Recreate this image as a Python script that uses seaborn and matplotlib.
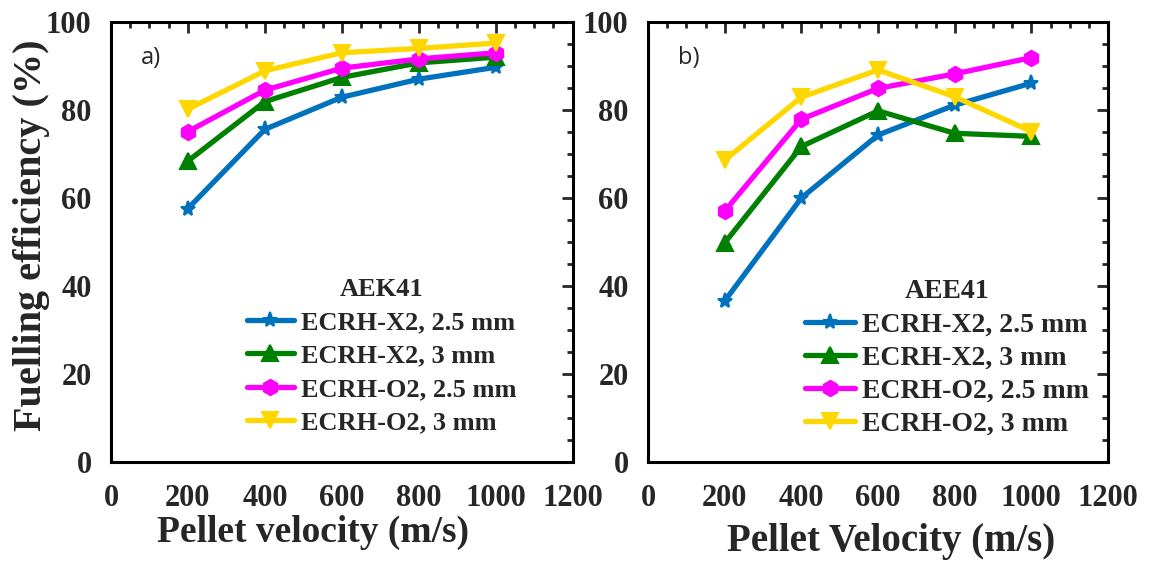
import matplotlib
matplotlib.use("Agg")
import matplotlib.pyplot as plt
import seaborn as sns
import numpy as np
from matplotlib.ticker import MultipleLocator

sns.set_style("white")
plt.rcParams['font.family'] = ['Liberation Serif', 'DejaVu Serif']

velocity = [200, 400, 600, 800, 1000]
series_labels = ["ECRH-X2, 2.5 mm", "ECRH-X2, 3 mm", "ECRH-O2, 2.5 mm", "ECRH-O2, 3 mm"]

# Panel a) AEK41
aek_x2_25 = [57.6, 75.6, 82.9, 87.0, 89.7]
aek_x2_3 = [68.4, 81.9, 87.4, 90.7, 92.0]
aek_o2_25 = [75.1, 84.5, 89.5, 91.6, 93.0]
aek_o2_3 = [80.2, 88.9, 93.0, 94.0, 95.2]

# Panel b) AEE41
aee_x2_25 = [36.6, 60.0, 74.3, 81.1, 86.1]
aee_x2_3 = [49.8, 71.7, 79.8, 74.7, 74.0]
aee_o2_25 = [57.0, 77.9, 84.9, 88.2, 91.9]
aee_o2_3 = [68.6, 82.9, 89.1, 83.0, 75.1]

colors = ["#0072BD", "#008000", "#FF00FF", "#FFD700"]
markers = ["*", "^", "h", "v"]

fig = plt.figure(figsize=(11.5, 5.63), dpi=100)
axA = fig.add_axes([0.0965, 0.1794, 0.4015, 0.7816])
axB = fig.add_axes([0.5635, 0.1794, 0.4000, 0.7816])

panels = [
    (axA, [aek_x2_25, aek_x2_3, aek_o2_25, aek_o2_3], "AEK41", "Pellet velocity (m/s)", "a)",
     (0.294, 0.062), 19, 27, (0.437, -0.159), 0.38),
    (axB, [aee_x2_25, aee_x2_3, aee_o2_25, aee_o2_3], "AEE41", "Pellet Velocity (m/s)", "b)",
     (0.341, 0.057), 20, 28, (0.528, -0.18), 0.28),
]

for ax, data, title, xlabel, tag, anchor, lfs, xfs, xlc, lsp in panels:
    for vals, lab, c, m in zip(data, series_labels, colors, markers):
        sns.lineplot(x=velocity, y=vals, ax=ax, color=c, marker=m, markersize=11,
                     markeredgecolor=c, markeredgewidth=1.5, linewidth=3.8, label=lab)
    ax.set_xlim(0, 1200)
    ax.set_ylim(0, 100)
    ax.xaxis.set_major_locator(MultipleLocator(200))
    ax.xaxis.set_minor_locator(MultipleLocator(50))
    ax.yaxis.set_major_locator(MultipleLocator(20))
    ax.yaxis.set_minor_locator(MultipleLocator(5))
    ax.tick_params(which='both', direction='in', top=True, right=True, width=2,
                   labelsize=22)
    ax.tick_params(axis='x', which='both', pad=16)
    ax.tick_params(axis='y', which='both', pad=14)
    ax.tick_params(which='major', length=8)
    ax.tick_params(which='minor', length=4)
    for lbl in ax.get_xticklabels() + ax.get_yticklabels():
        lbl.set_fontweight('bold')
    for sp in ax.spines.values():
        sp.set_linewidth(2.2)
        sp.set_color('black')
        sp.set_visible(True)
    ax.set_xlabel(xlabel, fontsize=xfs, fontweight='bold')
    ax.xaxis.set_label_coords(*xlc)
    ax.xaxis.label.set_va('center')
    ax.text(0.065, 0.918, tag, transform=ax.transAxes, fontsize=17,
            family=['Open Sans', 'DejaVu Sans'], va='center', ha='left')
    leg = ax.legend(loc='lower left', bbox_to_anchor=anchor,
                    frameon=False, title=title, prop={'weight': 'bold', 'size': lfs},
                    title_fontproperties={'weight': 'bold', 'size': lfs},
                    handlelength=1.8, labelspacing=lsp, handletextpad=0.25,
                    borderaxespad=0.0, borderpad=0.0)

axA.set_ylabel("Fuelling efficiency (%)", fontsize=29, fontweight='bold')
axA.yaxis.set_label_coords(-0.173, 0.516)
axA.yaxis.label.set_va('center')
axB.set_ylabel("")

fig.savefig("out.png", dpi=100)
